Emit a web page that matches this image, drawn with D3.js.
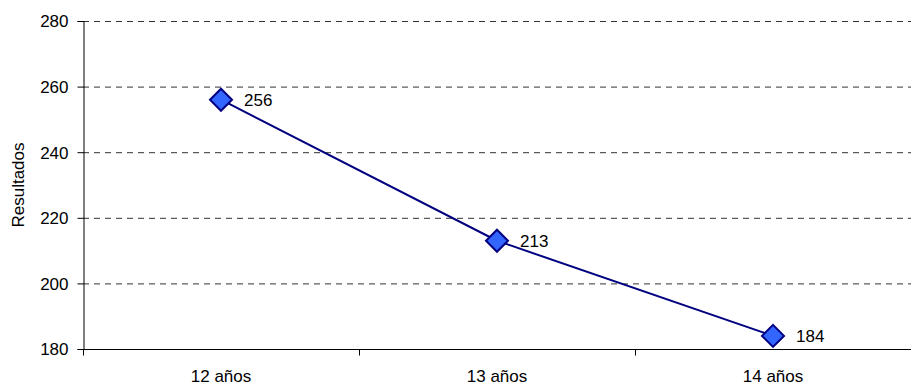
<!DOCTYPE html>
<html><head><meta charset="utf-8">
<script src="https://cdn.jsdelivr.net/npm/d3@7"></script>
<style>body{margin:0;background:#fff;} text{font-family:"Liberation Sans",Arial,sans-serif;fill:#000;}</style>
</head><body>
<svg id="c" width="911" height="385"></svg>
<script>
const categories = ["12 años","13 años","14 años"];
const values = [256,213,184];
const yTicks = [180,200,220,240,260,280];

const svg = d3.select("#c");
const m = {l:83, r:911, t:21, b:349};
const x = d3.scaleBand().domain(categories).range([m.l,m.r]);
const y = d3.scaleLinear().domain([180,280]).range([m.b,m.t]);

// gridlines
svg.append("g").selectAll("line").data(yTicks.filter(d=>d>180)).join("line")
  .attr("x1",m.l).attr("x2",m.r).attr("y1",d=>y(d)+0.5).attr("y2",d=>y(d)+0.5)
  .attr("stroke","#333").attr("stroke-dasharray","6,5").attr("stroke-width",1);

// y axis
const ya = svg.append("g").attr("transform",`translate(${m.l+0.5},0)`)
  .call(d3.axisLeft(y).tickValues(yTicks).tickSize(6).tickPadding(9));
ya.attr("font-size",null).attr("font-family",null);
ya.select(".domain").attr("stroke","#000");
ya.selectAll(".tick line").attr("stroke","#000");
ya.selectAll("text").style("font-size","17px").attr("dy","0.35em");

// x axis
const xa = svg.append("g").attr("transform",`translate(0,${m.b+0.5})`);
xa.append("line").attr("x1",m.l).attr("x2",m.r).attr("stroke","#000");
const bounds = categories.map(c=>x(c)).concat([m.r]);
xa.selectAll("line.t").data(bounds).join("line").attr("class","t")
  .attr("x1",d=>d+0.5).attr("x2",d=>d+0.5).attr("y1",0).attr("y2",6).attr("stroke","#000");
xa.selectAll("text").data(categories).join("text")
  .attr("x",d=>x(d)+x.bandwidth()/2).attr("y",32).attr("text-anchor","middle")
  .style("font-size","17px").text(d=>d);

// y title
svg.append("text").attr("transform",`translate(24,${(m.t+m.b)/2}) rotate(-90)`)
  .attr("text-anchor","middle").style("font-size","17px").text("Resultados");

// line
const cx = d=>x(d)+x.bandwidth()/2;
svg.append("path").datum(values.map((v,i)=>[cx(categories[i]),y(v)]))
  .attr("d",d3.line()).attr("fill","none").attr("stroke","#000080").attr("stroke-width",2);

// markers
svg.append("g").selectAll("path").data(values).join("path")
  .attr("transform",(d,i)=>`translate(${cx(categories[i])},${y(d)})`)
  .attr("d","M0,-11L11,0L0,11L-11,0Z")
  .attr("fill","#3366FF").attr("stroke","#000080").attr("stroke-width",2);

// labels
svg.append("g").selectAll("text").data(values).join("text")
  .attr("x",(d,i)=>cx(categories[i])+23).attr("y",d=>y(d)).attr("dy","0.35em")
  .style("font-size","17px").text(d=>d);
</script>
</body></html>
